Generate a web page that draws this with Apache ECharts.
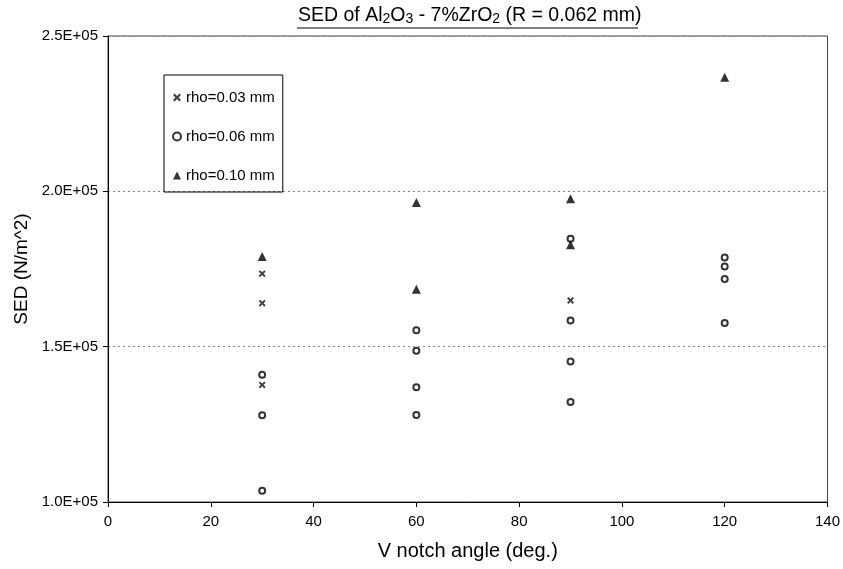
<!DOCTYPE html>
<html>
<head>
<meta charset="utf-8">
<script src="https://cdn.jsdelivr.net/npm/echarts@6.0.0/dist/echarts.min.js"></script>
<style>
  html, body { margin: 0; padding: 0; background: #fff; }
  #root { width: 843px; height: 569px; }
</style>
</head>
<body>
<div id="root"></div>
<script>
// values: [notch angle, SED]
const rho003 = [[30, 173500], [30, 164000], [30, 137700], [90, 164900]];
const rho006 = [
  [30, 141000], [30, 127900], [30, 103600],
  [60, 155300], [60, 148700], [60, 136900], [60, 128000],
  [90, 184700], [90, 158400], [90, 145200], [90, 132200],
  [120, 178700], [120, 175800], [120, 171800], [120, 157600]
];
const rho010 = [[30, 179000], [60, 196400], [60, 168500], [90, 197600], [90, 182800], [120, 236700]];
const seriesNames = ["rho=0.03 mm", "rho=0.06 mm", "rho=0.10 mm"];

const font = "Liberation Sans";
const crossPath = "path://M0,2L2,0L5,3L8,0L10,2L7,5L10,8L8,10L5,7L2,10L0,8L3,5Z";

const chart = echarts.init(document.getElementById("root"));

chart.setOption({
  backgroundColor: "#ffffff",
  animation: false,
  textStyle: { fontFamily: font, color: "#000" },
  title: {
    left: 298,
    top: 3,
    padding: 0,
    text: "{t|SED of Al}{s|2}{t|O}{s|3}{t| - 7%ZrO}{s|2}{t| (R = 0.062 mm)}",
    textStyle: {
      rich: {
        t: { fontFamily: font, fontSize: 19.5, fontWeight: "normal", color: "#000", verticalAlign: "bottom", lineHeight: 23 },
        s: { fontFamily: font, fontSize: 14, fontWeight: "normal", color: "#000", verticalAlign: "bottom", lineHeight: 19 }
      }
    }
  },
  legend: {
    orient: "vertical",
    left: 164,
    top: 75,
    padding: [15, 8, 9, 8],
    itemGap: 24,
    itemWidth: 8,
    itemHeight: 8,
    borderColor: "#000",
    borderWidth: 1,
    textStyle: { fontFamily: font, fontSize: 15, color: "#000" },
    data: seriesNames
  },
  grid: {
    left: 108, right: 12, top: 36, bottom: 67,
    show: true, borderColor: "#444", borderWidth: 1
  },
  xAxis: {
    type: "value",
    min: 0, max: 140, interval: 20,
    name: "V notch angle (deg.)",
    nameLocation: "middle",
    nameGap: 39,
    nameTextStyle: { fontFamily: font, fontSize: 20, color: "#000" },
    axisLine: { lineStyle: { color: "#000", width: 1 } },
    axisTick: { show: true, length: 5, lineStyle: { color: "#000" } },
    axisLabel: { fontFamily: font, fontSize: 15, color: "#000", margin: 12 },
    splitLine: { show: false }
  },
  yAxis: {
    type: "value",
    min: 100000, max: 250000, interval: 50000,
    name: "SED (N/m^2)",
    nameLocation: "middle",
    nameGap: 71,
    nameTextStyle: { fontFamily: font, fontSize: 19, color: "#000" },
    axisLine: { show: true, lineStyle: { color: "#000", width: 1 } },
    axisTick: { show: true, length: 5, lineStyle: { color: "#000" } },
    axisLabel: {
      fontFamily: font, fontSize: 15, color: "#000", margin: 10,
      formatter: (v) => (v / 100000).toFixed(1) + "E+05"
    },
    splitLine: { show: true, lineStyle: { color: "#888", type: [2, 3], width: 1 } }
  },
  series: [
    {
      name: seriesNames[0], type: "scatter", data: rho003,
      symbol: crossPath, symbolSize: 7,
      itemStyle: { color: "#111" }
    },
    {
      name: seriesNames[1], type: "scatter", data: rho006,
      symbol: "circle", symbolSize: 6,
      itemStyle: { color: "#fff", borderColor: "#000", borderWidth: 2 }
    },
    {
      name: seriesNames[2], type: "scatter", data: rho010,
      symbol: "triangle", symbolSize: 9,
      itemStyle: { color: "#000" }
    }
  ],
  // title underline
  graphic: [{
    type: "line",
    shape: { x1: 297, y1: 28, x2: 638, y2: 28 },
    style: { stroke: "#000", lineWidth: 1.2 }
  }]
});
</script>
</body>
</html>
